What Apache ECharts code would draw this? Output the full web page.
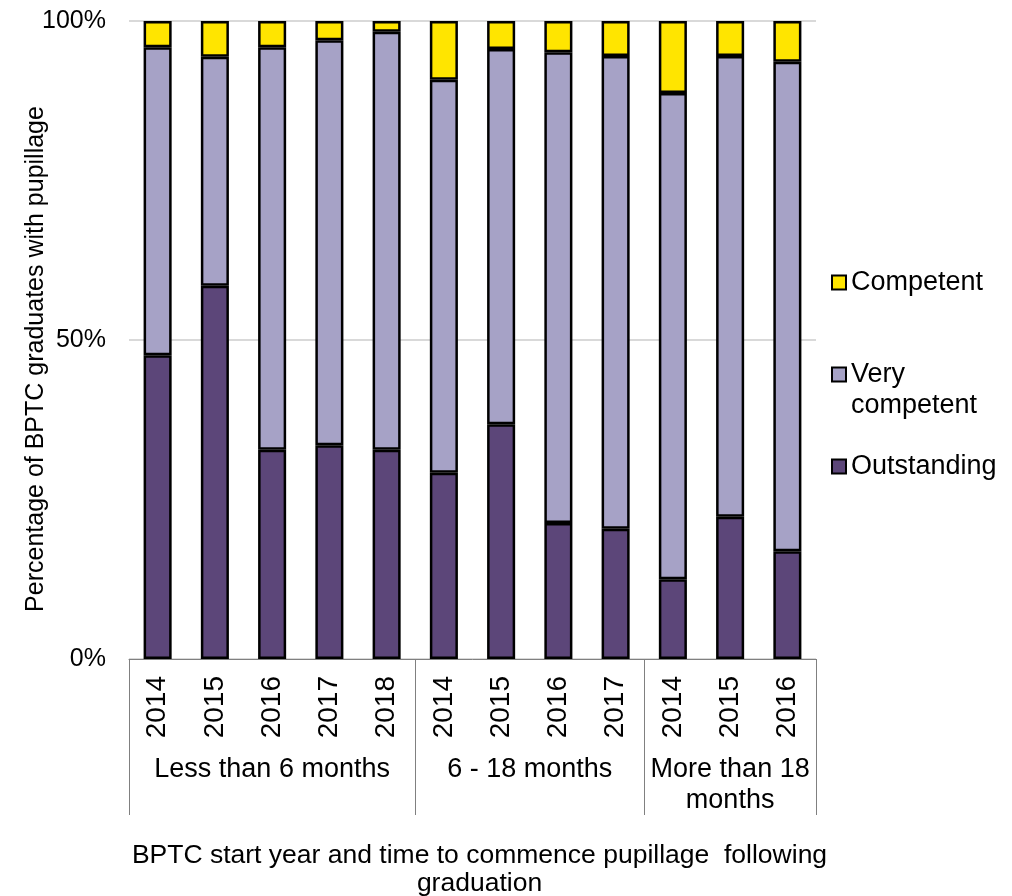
<!DOCTYPE html>
<html>
<head>
<meta charset="utf-8">
<script src="https://cdn.jsdelivr.net/npm/echarts@6/dist/echarts.min.js"></script>
<style>
html,body{margin:0;padding:0;background:#fff;}
#chart{width:1012px;height:896px;}
</style>
</head>
<body>
<div id="chart"></div>
<script>
// ---- data ----
const years = ['2014','2015','2016','2017','2018','2014','2015','2016','2017','2014','2015','2016'];
const groupNames = ['Less than 6 months', '6 - 18 months', 'More than 18\nmonths'];
const groupSizes = [5, 4, 3];
const outstanding   = [47.6, 58.5, 32.8, 33.5, 32.8, 29.2, 36.8, 21.3, 20.4, 12.5, 22.3, 16.9];
const veryCompetent = [48.3, 35.9, 63.1, 63.5, 65.5, 61.6, 58.8, 73.8, 74.1, 76.2, 72.2, 76.7];
const competent     = [4.1, 5.6, 4.1, 3.0, 1.7, 9.2, 4.4, 4.9, 5.5, 11.3, 5.5, 6.4];
const yTicks = [0, 50, 100];
const yAxisTitle = 'Percentage of BPTC graduates with pupillage';
const xAxisTitle = 'BPTC start year and time to commence pupillage  following\ngraduation';

// derived group boundaries / centres
const boundaries = [0];
groupSizes.forEach(s => boundaries.push(boundaries[boundaries.length - 1] + s));
const centres = groupSizes.map((s, i) => boundaries[i] + s / 2);

const FONT = '"Liberation Sans", Arial, sans-serif';
const C_OUT = '#5c4679';
const C_VC = '#a6a2c6';
const C_COMP = '#ffe500';
const legendText = { fontFamily: FONT, fontSize: 27, color: '#000', lineHeight: 31 };

const chart = echarts.init(document.getElementById('chart'));
const option = {
  backgroundColor: '#ffffff',
  animation: false,
  textStyle: { fontFamily: FONT, color: '#000' },
  grid: { left: 129, right: 196, top: 21, bottom: 237, containLabel: false, outerBoundsMode: 'none' },
  legend: [
    {
      data: ['Competent'], orient: 'vertical', left: 831, top: 267, padding: 0,
      itemWidth: 14, itemHeight: 14, selectedMode: false, icon: 'rect',
      textStyle: legendText
    },
    {
      data: ['Very competent'], orient: 'vertical', left: 831, top: 328, padding: 0,
      itemWidth: 14, itemHeight: 14, selectedMode: false, icon: 'rect',
      formatter: () => ' \nVery\ncompetent',
      textStyle: legendText
    },
    {
      data: ['Outstanding'], orient: 'vertical', left: 831, top: 451, padding: 0,
      itemWidth: 14, itemHeight: 14, selectedMode: false, icon: 'rect',
      textStyle: legendText
    }
  ],
  xAxis: [
    {
      type: 'category', position: 'bottom', data: years,
      axisLine: { show: false }, axisTick: { show: false },
      axisLabel: { rotate: 90, margin: 17, fontFamily: FONT, fontSize: 28, color: '#000', interval: 0 }
    },
    {
      type: 'value', position: 'bottom', min: 0, max: boundaries[boundaries.length - 1],
      splitLine: { show: false },
      axisLine: { show: true, lineStyle: { color: '#808080', width: 1 } },
      axisTick: { show: true, customValues: boundaries, length: 156, inside: false, lineStyle: { color: '#808080', width: 1 } },
      axisLabel: {
        customValues: centres, margin: 95, fontFamily: FONT, fontSize: 27, color: '#000', lineHeight: 31,
        formatter: v => { const i = centres.indexOf(v); return i >= 0 ? groupNames[i] : ''; }
      },
      name: xAxisTitle, nameLocation: 'middle', nameGap: 183, nameMoveOverlap: false,
      nameTextStyle: { fontFamily: FONT, fontSize: 26.5, color: '#000', lineHeight: 28, verticalAlign: 'top', padding: [0, 0, 0, 14] }
    }
  ],
  yAxis: {
    type: 'value', min: yTicks[0], max: yTicks[yTicks.length - 1], interval: yTicks[1] - yTicks[0],
    axisLine: { show: false }, axisTick: { show: false },
    splitLine: { show: true, lineStyle: { color: '#d9d9d9', width: 2 } },
    axisLabel: { formatter: '{value}%', margin: 23, fontFamily: FONT, fontSize: 25, color: '#000' },
    name: yAxisTitle, nameLocation: 'middle', nameGap: 80, nameRotate: 90, nameMoveOverlap: false,
    nameTextStyle: { fontFamily: FONT, fontSize: 25, color: '#000', padding: [0, 38, 0, 0] }
  },
  series: [
    {
      name: 'Outstanding', type: 'bar', stack: 'all', data: outstanding, barWidth: '49%',
      xAxisIndex: 0, yAxisIndex: 0,
      itemStyle: { color: C_OUT, borderColor: '#000', borderWidth: 2.5 }
    },
    {
      name: 'Very competent', type: 'bar', stack: 'all', data: veryCompetent, barWidth: '49%',
      xAxisIndex: 0, yAxisIndex: 0,
      itemStyle: { color: C_VC, borderColor: '#000', borderWidth: 2.5 }
    },
    {
      name: 'Competent', type: 'bar', stack: 'all', data: competent, barWidth: '49%',
      xAxisIndex: 0, yAxisIndex: 0,
      itemStyle: { color: C_COMP, borderColor: '#000', borderWidth: 2.5 }
    }
  ]
};
chart.setOption(option);
</script>
</body>
</html>
